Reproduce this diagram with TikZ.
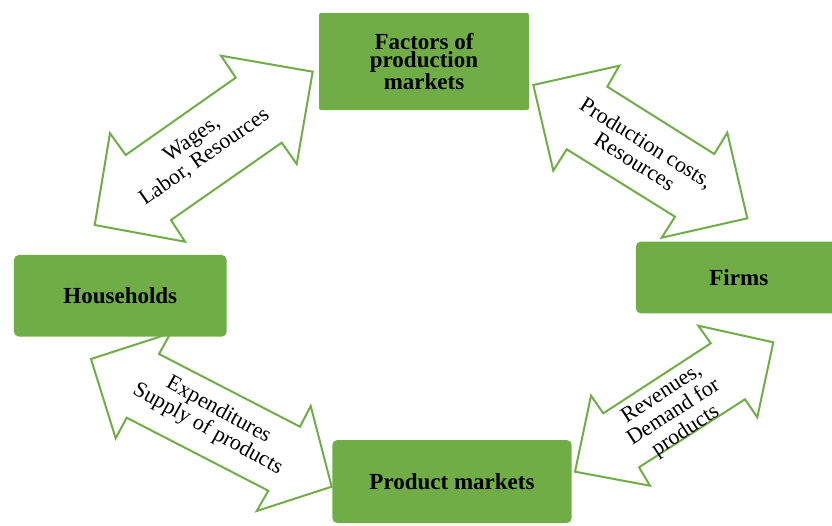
\documentclass[tikz,border=0pt]{standalone}
\usepackage{fontspec}
\setmainfont{Liberation Serif}
\definecolor{boxgreen}{HTML}{70AD47}
\begin{document}
\begin{tikzpicture}[x=1pt,y=-1pt,
  box/.style={fill=boxgreen, rounded corners=5pt, inner sep=0pt, align=center,
    font=\fontsize{23}{18.5}\selectfont\bfseries},
  dblarrow/.style={draw=boxgreen, line width=2pt, fill=white, line join=miter},
  lbl/.style={align=center, inner sep=0pt, font=\fontsize{22}{22}\selectfont}]
\useasboundingbox (0,0) rectangle (832,525);
\clip (0,0) rectangle (832,525);

% double arrows
\draw[dblarrow] (312.7,71.7) -- (221,55.7) -- (235.7,77.7) -- (125.7,155) -- (110,133.3)
  -- (94.7,225) -- (185,241.7) -- (171,220) -- (281.7,142.7) -- (296.7,164) -- cycle;
\draw[dblarrow] (533.3,85) -- (619.3,65.7) -- (607.3,86.7) -- (714.3,154) -- (727.3,132.7)
  -- (747.3,218.3) -- (661.7,237.7) -- (675,216.7) -- (566.7,149.3) -- (553.3,170.7) -- cycle;
\draw[dblarrow] (91,359) -- (170.5,333.2) -- (159,354) -- (300,426.7) -- (310.7,406)
  -- (331.7,486.7) -- (256.7,511) -- (268.3,490.7) -- (126.7,417.7) -- (115.7,438.3) -- cycle;
\draw[dblarrow] (773.3,342.3) -- (698.3,325.7) -- (710.7,343.3) -- (603.3,413.3) -- (591,395.7)
  -- (575,471.7) -- (650,485.7) -- (639,467.3) -- (745,399.3) -- (757.3,417.3) -- cycle;

% labels
\node[lbl, rotate=35] (l1) at (198.3,148.3) {Wages,\\Labor, Resources};
\node[lbl, rotate=-32] (l2) at (640.7,152) {Production costs,\\Resources};
\node[lbl, rotate=-29] (l3) at (213,420) {Expenditures\\Supply of products};
\node[lbl, rotate=33] (l4) at (674,413) {Revenues,\\Demand for\\products};

% boxes
\node[box, rounded corners=2pt, minimum width=210pt, minimum height=97pt] (fpm) at (424,61.5)
  {Factors of\\production\\markets};
\node[box, minimum width=212.7pt, minimum height=81.7pt] (hh) at (120.3,295.8) {Households};
\node[box, minimum width=206pt, minimum height=71.6pt] (firms) at (738.8,277.5) {Firms};
\node[box, minimum width=239.4pt, minimum height=83pt] (pm) at (452,481.5) {Product markets};
\end{tikzpicture}
\end{document}
